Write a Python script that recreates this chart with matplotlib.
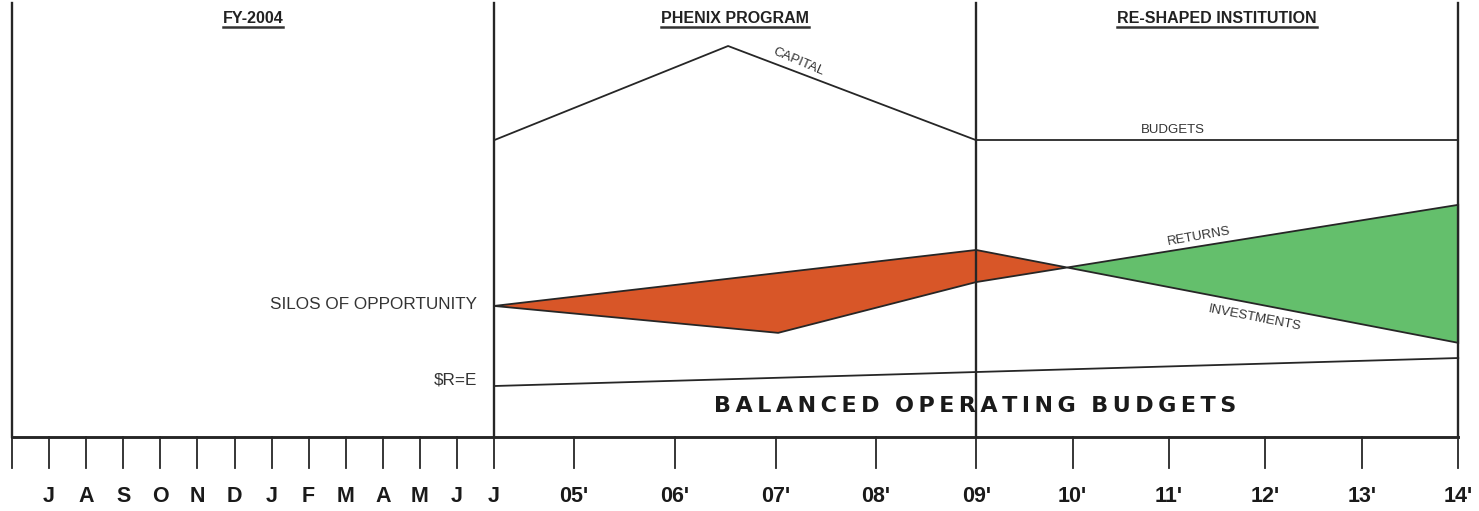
import numpy as np
import matplotlib
matplotlib.use('Agg')
import matplotlib.pyplot as plt

# x runs in "month" units: FY-2004 months 0..13, then the program years
month_labels = ['J', 'A', 'S', 'O', 'N', 'D', 'J', 'F', 'M', 'A', 'M', 'J', 'J']
month_ticks = np.arange(0, 14)
year_labels = ['05\'', '06\'', '07\'', '08\'', '09\'', '10\'', '11\'', '12\'', '13\'', '14\'']
year_ticks = [15.16, 17.88, 20.6, 23.3, 26.0, 28.6, 31.2, 33.8, 36.4, 39.0]
section_edges = [0, 13, 26, 39]
section_titles = ['FY-2004', 'PHENIX PROGRAM', 'RE-SHAPED INSTITUTION']
section_title_x = [6.5, 19.5, 32.5]

# schematic curves (x in month units, y in 0..100 height units)
capital_x = [13, 19.31, 26]
capital_y = [68.4, 90.1, 68.4]
budgets_x = [26, 39]
budgets_y = [68.4, 68.4]
silos_x = [13, 20.66, 26]
silos_lo = [30.2, 24.0, 35.7]
silos_hi_end = 43.1
returns_x = [26, 39]
returns_y = [35.7, 53.5]
invest_x = [26, 39]
invest_y = [43.1, 21.7]
rre_x = [13, 39]
rre_y = [11.75, 18.2]

LINE = '#262626'
ORANGE = '#D85628'
GREEN = '#64BF6C'
LW = 1.3
FONT = ['Liberation Sans', 'DejaVu Sans']

fig = plt.figure(figsize=(14.79, 5.11), dpi=100)
ax = fig.add_axes([0, 0, 1, 1])
ax.set_xlim(-0.324, 39.56)
ax.set_ylim(-17.05, 100.7)
ax.axis('off')

# crossing of returns and investments lines
r_slope = (returns_y[1] - returns_y[0]) / (returns_x[1] - returns_x[0])
i_slope = (invest_y[1] - invest_y[0]) / (invest_x[1] - invest_x[0])
dx = (invest_y[0] - returns_y[0]) / (r_slope - i_slope)
cross_x = returns_x[0] + dx
cross_y = returns_y[0] + r_slope * dx

# orange silos polygon
orange_x = [silos_x[0], 26, cross_x, silos_x[2], silos_x[1]]
orange_y = [silos_lo[0], silos_hi_end, cross_y, silos_lo[2], silos_lo[1]]
ax.fill(orange_x, orange_y, color=ORANGE, ec=LINE, lw=LW, zorder=2)
# green returns wedge
green_x = [cross_x, returns_x[1], invest_x[1]]
green_y = [cross_y, returns_y[1], invest_y[1]]
ax.fill(green_x, green_y, color=GREEN, ec=LINE, lw=LW, zorder=2)

ax.plot(capital_x, capital_y, color=LINE, lw=LW)
ax.plot(budgets_x, budgets_y, color=LINE, lw=LW)
ax.plot(rre_x, rre_y, color=LINE, lw=LW)

# frame: vertical section lines, baseline, ticks
for xe in section_edges:
    ax.plot([xe, xe], [0, 100], color=LINE, lw=LW * 1.3, zorder=3)
ax.plot([section_edges[0], section_edges[-1]], [0, 0], color=LINE, lw=LW * 1.6, zorder=3)
for xt in list(month_ticks) + year_ticks:
    ax.plot([xt, xt], [0, -7.1], color=LINE, lw=LW, zorder=3)

for xt, lab in zip(month_ticks[1:], month_labels):
    ax.text(xt, -13.6, lab, ha='center', va='center', fontsize=15.5,
            fontweight='heavy', family=FONT, color='#1a1a1a')
for xt, lab in zip(year_ticks, year_labels):
    ax.text(xt, -13.6, lab, ha='center', va='center', fontsize=15.5,
            fontweight='bold', family=FONT, color='#1a1a1a')

# section headers, underlined
fig.canvas.draw()
renderer = fig.canvas.get_renderer()
inv = ax.transData.inverted()
for xt, title in zip(section_title_x, section_titles):
    t = ax.text(xt, 96.4, title, ha='center', va='center', fontsize=11.5,
                fontweight='bold', family=FONT, color='#222222')
    bb = t.get_window_extent(renderer)
    (x0, y0), (x1, y1) = inv.transform([[bb.x0, bb.y0 - 1], [bb.x1, bb.y0 - 1]])
    ax.plot([x0, x1], [y0, y1], color='#333333', lw=1.8)

# curve labels
ax.text(21.2, 86.4, 'CAPITAL', rotation=-23, ha='center', va='center',
        fontsize=9.5, family=FONT, color='#333333')
ax.text(31.3, 70.8, 'BUDGETS', ha='center', va='center',
        fontsize=9.5, family=FONT, color='#333333')
ax.text(32.0, 46.3, 'RETURNS', rotation=10, ha='center', va='center',
        fontsize=9.5, family=FONT, color='#333333')
ax.text(33.5, 27.5, 'INVESTMENTS', rotation=-11, ha='center', va='center',
        fontsize=9.5, family=FONT, color='#333333')
ax.text(12.55, 30.6, 'SILOS OF OPPORTUNITY', ha='right', va='center',
        fontsize=12.3, family=FONT, color='#333333')
ax.text(12.55, 13.2, '$R=E', ha='right', va='center',
        fontsize=12.3, family=FONT, color='#333333')
balanced = '\u2009'.join('BALANCED') + '  ' + '\u2009'.join('OPERATING') + '  ' + '\u2009'.join('BUDGETS')
ax.text(25.97, 7.1, balanced, ha='center', va='center', fontsize=16,
        fontweight='bold', family=['DejaVu Sans'], color='#1a1a1a')

fig.savefig('out.png', dpi=100, facecolor='white')
